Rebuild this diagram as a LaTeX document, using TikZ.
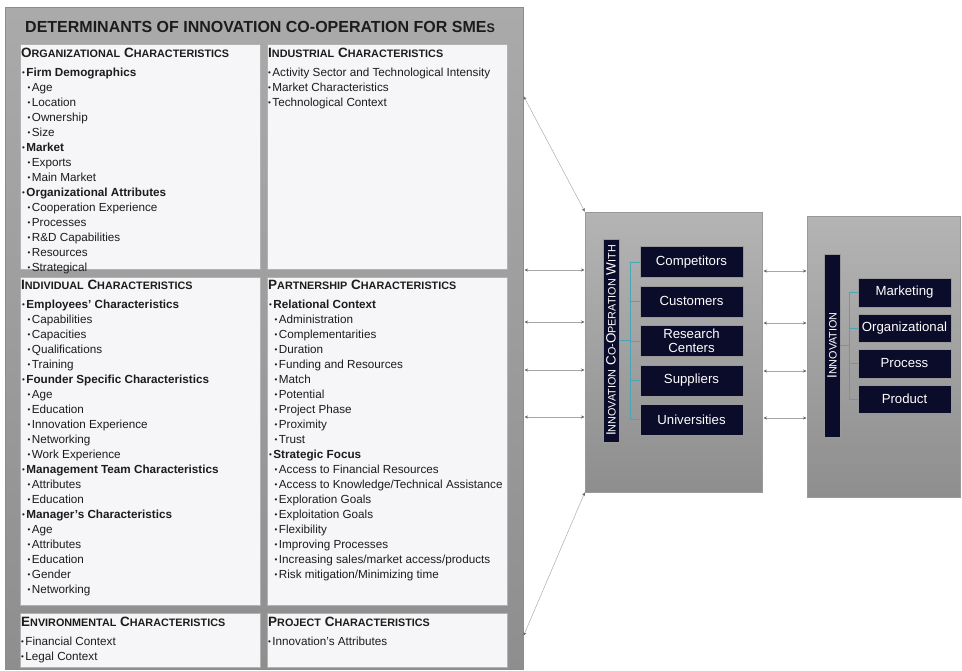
\documentclass[tikz,border=0pt]{standalone}
\usepackage{fontspec}
\setmainfont{Liberation Sans}
\usetikzlibrary{arrows.meta}

\definecolor{panelTop}{HTML}{AAAAAA}
\definecolor{panelBot}{HTML}{8E8E8E}
\definecolor{boxTop}{HTML}{B4B4B4}
\definecolor{boxBot}{HTML}{8E8E8E}
\definecolor{sheet}{HTML}{F6F6F8}
\definecolor{navy}{HTML}{0B0B2A}
\definecolor{linkteal}{HTML}{4AA6B4}
\definecolor{ink}{HTML}{1C1C1C}

% small caps by hand (first letter large, rest smaller)
\newcommand{\smc}[2]{#1{\fontsize{10.8}{12}\selectfont #2}}
\newcommand{\bul}{\raisebox{0.5pt}{\fontsize{8}{8}\selectfont\textbullet}\hspace{1.4pt}}
\newcommand{\lvA}[1]{\bul\textbf{#1}}
\newcommand{\lvB}[1]{\hspace*{5.5pt}\bul#1}
\newcommand{\lvN}[1]{\bul#1}

\begin{document}
\begin{tikzpicture}[x=1pt, y=-1pt,
  panel/.style={draw=black!45, line width=0.4pt, top color=panelTop, bottom color=panelBot, anchor=north west, inner sep=0, outer sep=0},
  sheetbox/.style={draw=black!30, line width=0.4pt, fill=sheet, anchor=north west, inner sep=0, outer sep=0, minimum width=240pt},
  heading/.style={anchor=base west, inner sep=0, text=ink, font=\bfseries\fontsize{13.5}{15}\selectfont},
  item/.style={anchor=base west, inner sep=0, text=ink, font=\fontsize{11.7}{15}\selectfont},
  bar/.style={fill=navy, draw=black!40, text=white, rotate=90, inner sep=0, minimum height=16pt, font=\fontsize{13.5}{15}\selectfont},
  catbox/.style={fill=navy, draw=black!40, text=white, align=center, inner sep=0, font=\fontsize{13.2}{14}\selectfont},
  link/.style={draw=linkteal, line width=0.6pt},
  arrowline/.style={{Stealth[length=3.5pt,width=3pt,black!60]}-{Stealth[length=3.5pt,width=3pt,black!60]}, draw=black!35, line width=0.45pt, shorten <=1.5pt, shorten >=0.5pt}
]

\def \xcolA {20}
\def \xcolB {267}

\useasboundingbox (0,0) rectangle (962,670);

% left panel and title
\node[panel, minimum width=518pt, minimum height=662pt] (panel) at (5,7) {};
\node[anchor=base west, inner sep=0, text=ink, font=\bfseries\fontsize{16}{18}\selectfont] (title) at (25,32.5)
  {DETERMINANTS OF INNOVATION CO-OPERATION FOR SME{\fontsize{12.5}{14}\selectfont S}};

% sheets
\node[sheetbox, minimum height=225pt] (org)  at (\xcolA,44)  {};
\node[sheetbox, minimum height=225pt] (ind)  at (\xcolB,44)  {};
\node[sheetbox, minimum height=328pt] (indv) at (\xcolA,277) {};
\node[sheetbox, minimum height=328pt] (part) at (\xcolB,277) {};
\node[sheetbox, minimum height=54pt]  (env)  at (\xcolA,613) {};
\node[sheetbox, minimum height=54pt]  (proj) at (\xcolB,613) {};

% headings
\node[heading] (org-h)  at (\xcolA+1,57.5)  {\smc{O}{RGANIZATIONAL} \smc{C}{HARACTERISTICS}};
\node[heading] (ind-h)  at (\xcolB+1,57.5)  {\smc{I}{NDUSTRIAL} \smc{C}{HARACTERISTICS}};
\node[heading] (indv-h) at (\xcolA+1,289.5) {\smc{I}{NDIVIDUAL} \smc{C}{HARACTERISTICS}};
\node[heading] (part-h) at (\xcolB+1,289.5) {\smc{P}{ARTNERSHIP} \smc{C}{HARACTERISTICS}};
\node[heading] (env-h)  at (\xcolA+1,626.5) {\smc{E}{NVIRONMENTAL} \smc{C}{HARACTERISTICS}};
\node[heading] (proj-h) at (\xcolB+1,626.5) {\smc{P}{ROJECT} \smc{C}{HARACTERISTICS}};

% organizational items
\foreach \txt [count=\i from 0] in {\lvA{Firm Demographics}, \lvB{Age}, \lvB{Location}, \lvB{Ownership}, \lvB{Size},
    \lvA{Market}, \lvB{Exports}, \lvB{Main Market}, \lvA{Organizational Attributes}, \lvB{Cooperation Experience},
    \lvB{Processes}, \lvB{R\&D Capabilities}, \lvB{Resources}, \lvB{Strategical}}
  \node[item] (org-\i) at (\xcolA+2,76+15*\i) {\txt};

% industrial items
\foreach \txt [count=\i from 0] in {\lvN{Activity Sector and Technological Intensity}, \lvN{Market Characteristics},
    \lvN{Technological Context}}
  \node[item] (ind-\i) at (\xcolB+1,76+15*\i) {\txt};

% individual items
\foreach \txt [count=\i from 0] in {\lvA{Employees’ Characteristics}, \lvB{Capabilities}, \lvB{Capacities},
    \lvB{Qualifications}, \lvB{Training}, \lvA{Founder Specific Characteristics}, \lvB{Age}, \lvB{Education},
    \lvB{Innovation Experience}, \lvB{Networking}, \lvB{Work Experience}, \lvA{Management Team Characteristics},
    \lvB{Attributes}, \lvB{Education}, \lvA{Manager’s Characteristics}, \lvB{Age}, \lvB{Attributes},
    \lvB{Education}, \lvB{Gender}, \lvB{Networking}}
  \node[item] (indv-\i) at (\xcolA+2,308+15*\i) {\txt};

% partnership items
\foreach \txt [count=\i from 0] in {\lvA{Relational Context}, \lvB{Administration}, \lvB{Complementarities},
    \lvB{Duration}, \lvB{Funding and Resources}, \lvB{Match}, \lvB{Potential}, \lvB{Project Phase},
    \lvB{Proximity}, \lvB{Trust}, \lvA{Strategic Focus}, \lvB{Access to Financial Resources},
    \lvB{Access to Knowledge/Technical Assistance}, \lvB{Exploration Goals}, \lvB{Exploitation Goals},
    \lvB{Flexibility}, \lvB{Improving Processes}, \lvB{Increasing sales/market access/products},
    \lvB{Risk mitigation/Minimizing time}}
  \node[item] (part-\i) at (\xcolB+2,308+15*\i) {\txt};

% environmental and project items
\node[item] (env-0)  at (\xcolA+1,645) {\lvN{Financial Context}};
\node[item] (env-1)  at (\xcolA+1,660) {\lvN{Legal Context}};
\node[item] (proj-0) at (\xcolB+1,645) {\lvN{Innovation’s Attributes}};

% co-operation box
\node[panel, draw=black!40, top color=boxTop, bottom color=boxBot, minimum width=177pt, minimum height=280pt] (coop) at (585,212) {};
\node[bar, minimum width=203pt] (coopbar) at (611,340.5) {\smc{I}{NNOVATION} \smc{C}{O-}\smc{O}{PERATION} \smc{W}{ITH}};
\foreach \txt [count=\i] in {Competitors, Customers, Research\\Centers, Suppliers, Universities}
  \node[catbox, minimum width=103pt, minimum height=31pt] (cat\i) at (691.5,262+39.4*\i-39.4) {\txt};
\draw[link] (coopbar.south) -- ++(11,0) coordinate (coopfork);
\draw[link] (coopfork |- cat1.west) -- (coopfork |- cat5.west);
\foreach \i in {1,...,5}
  \draw[link] (coopfork |- cat\i.west) -- (cat\i.west);

% innovation box
\node[panel, draw=black!40, top color=boxTop, bottom color=boxBot, minimum width=153pt, minimum height=281pt] (innov) at (807,216) {};
\node[bar, minimum width=183pt] (innovbar) at (832,345.5) {\smc{I}{NNOVATION}};
\foreach \txt [count=\i] in {Marketing, Organizational, Process, Product}
  \node[catbox, minimum width=93pt, minimum height=28.5pt] (kind\i) at (904.5,292.5+35.5*\i-35.5) {\txt};
\draw[link] (innovbar.south) -- ++(9,0) coordinate (innovfork);
\draw[link] (innovfork |- kind1.west) -- (innovfork |- kind4.west);
\foreach \i in {1,...,4}
  \draw[link] (innovfork |- kind\i.west) -- (kind\i.west);

% arrows between blocks
\draw[arrowline] (panel.east |- 0,95) -- (coop.north west);
\draw[arrowline] (panel.east |- 0,637) -- (coop.south west);
\foreach \y in {270,322,370,417}
  \draw[arrowline] (panel.east |- 0,\y) -- (coop.west |- 0,\y);
\foreach \y in {271,323,371,418}
  \draw[arrowline] (coop.east |- 0,\y) -- (innov.west |- 0,\y);

\end{tikzpicture}
\end{document}
